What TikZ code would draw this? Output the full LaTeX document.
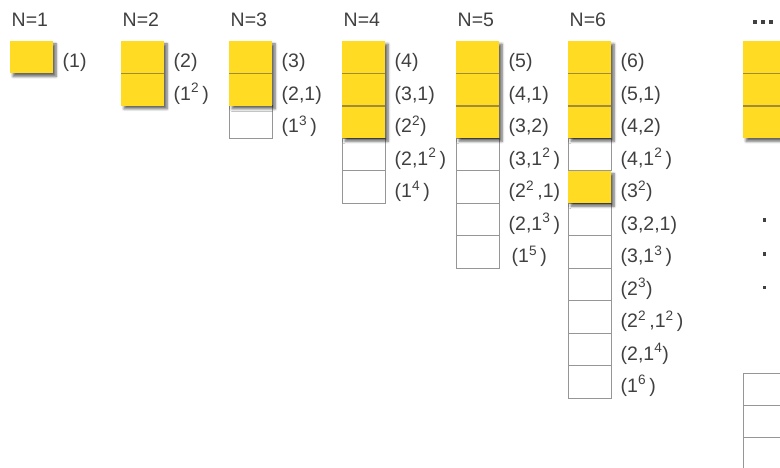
\documentclass[tikz,border=0pt]{standalone}
\usepackage{fontspec}
\setmainfont{Liberation Sans}
\usetikzlibrary{shadows.blur}
\definecolor{ylw}{RGB}{255,220,35}
\definecolor{txt}{RGB}{64,64,64}
\definecolor{bord}{RGB}{150,150,150}
\definecolor{sepc}{RGB}{160,140,55}
\tikzset{
  wbox/.style={draw=bord, line width=0.9pt, fill=white},
  ygrp/.style={fill=ylw, blur shadow={shadow xshift=3pt, shadow yshift=-3pt, shadow blur steps=6, shadow blur radius=2.5pt, shadow opacity=60}},
  sepl/.style={draw=sepc, line width=1.5pt},
  lbl/.style={anchor=base west, inner sep=0pt, font=\fontsize{19.5}{20}\selectfont, text=txt},
  dotsq/.style={fill=txt}
}
\newcommand\Wc[2]{\draw[wbox] (#1,{41+#2*32.45}) rectangle ++(43,32.45);}
\newcommand\Yg[3]{\fill[ygrp] (#1,{41+#2*32.45}) rectangle ++(43,{#3*32.45});}
\newcommand\Sp[2]{\draw[sepl] (#1,{41+#2*32.45}) -- ++(43,0);}
\newcommand\Lb[4]{\node[lbl] (#4) at ({#1+52.5},{41+#2*32.45+27}) {#3};}
\newcommand\Hd[3]{\node[lbl] (#3) at ({#1+1.5},27) {#2};}
\newcommand\su[1]{\textsuperscript{#1}}
\begin{document}
\begin{tikzpicture}[x=1pt,y=-1pt]
\useasboundingbox (0,0) rectangle (780,468);
\clip (0,0) rectangle (780,468);
% N=1
\Hd{10}{N=1}{h1}
\Yg{10}{0}{1}
\Lb{10}{0}{(1)}{a1}
% N=2
\Hd{121}{N=2}{h2}
\Yg{121}{0}{2}
\Sp{121}{1}
\Lb{121}{0}{(2)}{b1}
\Lb{121}{1}{(1\su{2}\,)}{b2}
% N=3
\Hd{229}{N=3}{h3}
\Wc{229}{2}
\Yg{229}{0}{2}
\Sp{229}{1}
\Lb{229}{0}{(3)}{c1}
\Lb{229}{1}{(2,1)}{c2}
\Lb{229}{2}{(1\su{3}\,)}{c3}
% N=4
\Hd{342}{N=4}{h4}
\foreach \r in {3,4} {\Wc{342}{\r}}
\Yg{342}{0}{3}
\Sp{342}{1}\Sp{342}{2}
\Lb{342}{0}{(4)}{d1}
\Lb{342}{1}{(3,1)}{d2}
\Lb{342}{2}{(2\su{2})}{d3}
\Lb{342}{3}{(2,1\su{2}\,)}{d4}
\Lb{342}{4}{(1\su{4}\,)}{d5}
% N=5
\Hd{456}{N=5}{h5}
\foreach \r in {3,...,6} {\Wc{456}{\r}}
\Yg{456}{0}{3}
\Sp{456}{1}\Sp{456}{2}
\Lb{456}{0}{(5)}{e1}
\Lb{456}{1}{(4,1)}{e2}
\Lb{456}{2}{(3,2)}{e3}
\Lb{456}{3}{(3,1\su{2}\,)}{e4}
\Lb{456}{4}{(2\su{2}\,,1)}{e5}
\Lb{456}{5}{(2,1\su{3}\,)}{e6}
\node[lbl] (e7) at ({456+55.5},{41+6*32.45+27}) {(1\su{5}\,)};
% N=6
\Hd{568}{N=6}{h6}
\Wc{568}{3}
\foreach \r in {5,...,10} {\Wc{568}{\r}}
\Yg{568}{0}{3}
\Sp{568}{1}\Sp{568}{2}
\Yg{568}{4}{1}
\Lb{568}{0}{(6)}{f1}
\Lb{568}{1}{(5,1)}{f2}
\Lb{568}{2}{(4,2)}{f3}
\Lb{568}{3}{(4,1\su{2}\,)}{f4}
\Lb{568}{4}{(3\su{2})}{f5}
\Lb{568}{5}{(3,2,1)}{f6}
\Lb{568}{6}{(3,1\su{3}\,)}{f7}
\Lb{568}{7}{(2\su{3})}{f8}
\Lb{568}{8}{(2\su{2}\,,1\su{2}\,)}{f9}
\Lb{568}{9}{(2,1\su{4})}{f10}
\Lb{568}{10}{(1\su{6}\,)}{f11}
% ... column
\foreach \i in {0,1,2} {\fill[dotsq] ({753+\i*8},20.5) rectangle ++(4,4);}
\Yg{743}{0}{3}
\Sp{743}{1}\Sp{743}{2}
\foreach \yy in {220,254,287} {\fill[dotsq] (762.5,{\yy-1.5}) rectangle ++(3.2,3.2);}
\foreach \i in {0,1,2} {\draw[wbox] (743,{373+\i*32.45}) rectangle ++(43,32.45);}
\end{tikzpicture}
\end{document}
